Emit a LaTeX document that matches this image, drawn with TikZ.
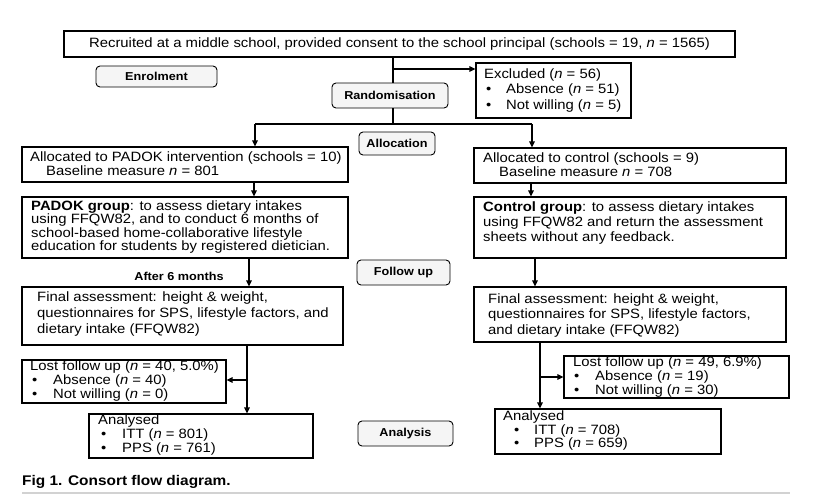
\documentclass[tikz,border=0pt]{standalone}
\usepackage{fontspec}
\setmainfont{Liberation Sans}[FakeStretch=1.1]
\usetikzlibrary{arrows.meta}
\newcommand\bul[2]{\hspace*{#1}\makebox[#2][l]{•}}
\newcommand\nn{\textit{n}}
\begin{document}
\begin{tikzpicture}[x=1pt,y=-1pt,
  box/.style={draw, line width=1.1pt, rectangle, inner sep=0pt},
  lab/.style={draw, line width=0.9pt, rounded corners=4pt, fill=gray!8, inner sep=0pt,
    font=\fontsize{11.5}{13}\selectfont\bfseries},
  txt/.style={inner sep=0pt, anchor=west, align=left},
  conn/.style={line width=1.3pt},
  arr/.style={conn, -{Triangle[length=6pt,width=5.5pt]}}]
\useasboundingbox (0,0) rectangle (817,499);

% boxes
\node[box, minimum width=671pt, minimum height=26pt, font=\fontsize{13.5}{15}\selectfont] (top) at (399.5,44)
  {Recruited at a middle school, provided consent to the school principal (schools = 19, \nn{} = 1565)};
\node[lab, minimum width=121pt, minimum height=21pt] (enrol) at (156.5,76.5) {Enrolment};
\node[lab, minimum width=116pt, minimum height=25pt] (rand) at (390,95.5) {Randomisation};
\node[box, minimum width=155pt, minimum height=55pt] (excl) at (553.5,90.5) {};
\node[lab, minimum width=76pt, minimum height=23pt] (alloc) at (397,143.5) {Allocation};
\node[box, minimum width=326pt, minimum height=35pt] (allocL) at (185,164.5) {};
\node[box, minimum width=312pt, minimum height=35pt] (allocR) at (630,165.5) {};
\node[box, minimum width=326pt, minimum height=61pt] (padok) at (185,227.5) {};
\node[box, minimum width=312pt, minimum height=61pt] (control) at (630,227.5) {};
\node[lab, minimum width=93pt, minimum height=25pt] (follow) at (403.5,272.5) {Follow up};
\node[box, minimum width=321pt, minimum height=58pt] (finalL) at (182.5,316) {};
\node[box, minimum width=312pt, minimum height=55pt] (finalR) at (630,314.5) {};
\node[box, minimum width=204pt, minimum height=43pt] (lostL) at (124,381.5) {};
\node[box, minimum width=224pt, minimum height=44pt] (analL) at (201,436) {};
\node[box, minimum width=225pt, minimum height=42pt] (lostR) at (676.5,377) {};
\node[box, minimum width=226pt, minimum height=45pt] (analR) at (608,431.5) {};
\node[lab, minimum width=95pt, minimum height=25pt] (analysis) at (405.5,433.5) {Analysis};

% texts
\node[txt, font=\fontsize{13.5}{15.5}\selectfont] (exclT) at (484,90.5)
  {Excluded (\nn{} = 56)\\ \bul{2pt}{20pt}Absence (\nn{} = 51)\\ \bul{2pt}{20pt}Not willing (\nn{} = 5)};
\node[txt, font=\fontsize{13.5}{11}\selectfont] (allocLT) at (30,163.5)
  {Allocated to PADOK intervention (schools = 10)\\ \hspace*{16pt}Baseline measure \nn{} = 801};
\node[txt, font=\fontsize{13.5}{12.5}\selectfont] (allocRT) at (483,164.5)
  {Allocated to control (schools = 9)\\ \hspace*{16pt}Baseline measure \nn{} = 708};
\node[txt, font=\fontsize{13.5}{13.3}\selectfont] (padokT) at (31,227)
  {\textbf{PADOK group}: to assess dietary intakes\\ using FFQW82, and to conduct 6 months of\\
   school-based home-collaborative lifestyle\\ education for students by registered dietician.};
\node[txt, font=\fontsize{13.5}{15}\selectfont] (controlT) at (483,223)
  {\textbf{Control group}: to assess dietary intakes\\ using FFQW82 and return the assessment\\
   sheets without any feedback.};
\node[txt, font=\fontsize{13.5}{16}\selectfont] (finalLT) at (37,314)
  {Final assessment: height \& weight,\\ questionnaires for SPS, lifestyle factors, and\\ dietary intake (FFQW82)};
\node[txt, font=\fontsize{13.5}{15.5}\selectfont] (finalRT) at (488,315.5)
  {Final assessment: height \& weight,\\ questionnaires for SPS, lifestyle factors,\\ and dietary intake (FFQW82)};
\node[txt, font=\fontsize{13.5}{11.5}\selectfont] (lostLT) at (30,381)
  {Lost follow up (\nn{} = 40, 5.0\%)\\ \bul{2pt}{21pt}Absence (\nn{} = 40)\\ \bul{2pt}{21pt}Not willing (\nn{} = 0)};
\node[txt, font=\fontsize{13.5}{12}\selectfont] (lostRT) at (573,377)
  {Lost follow up (\nn{} = 49, 6.9\%)\\ \bul{1pt}{21pt}Absence (\nn{} = 19)\\ \bul{1pt}{21pt}Not willing (\nn{} = 30)};
\node[txt, font=\fontsize{13.5}{12}\selectfont] (analLT) at (98,435)
  {Analysed\\ \bul{3pt}{21pt}ITT (\nn{} = 801)\\ \bul{3pt}{21pt}PPS (\nn{} = 761)};
\node[txt, font=\fontsize{13.5}{12.5}\selectfont] (analRT) at (503,430.5)
  {Analysed\\ \bul{11pt}{20pt}ITT (\nn{} = 708)\\ \bul{11pt}{20pt}PPS (\nn{} = 659)};
\node[font=\fontsize{11.5}{13}\selectfont\bfseries, inner sep=0pt] (after) at (179,276) {After 6 months};

% connectors
\coordinate (s1) at (393,69);
\coordinate (s2) at (393,124);
\coordinate (aL) at (255,124);
\coordinate (aR) at (532,124);
\coordinate (xa) at (254,0);
\coordinate (xb) at (531,0);
\coordinate (xc) at (249,0);
\coordinate (xd) at (535,0);
\coordinate (xe) at (247,0);
\coordinate (xf) at (540,0);
\coordinate (bL) at (247,380);
\coordinate (bR) at (540,377);
\draw[conn] (top.south -| s1) -- (rand.north -| s1);
\draw[arr] (s1) -- (s1 -| excl.west);
\draw[conn] (rand.south -| s2) -- (s2);
\draw[conn] (aL) -- (aR);
\draw[arr] (aL) -- (aL |- allocL.north);
\draw[arr] (aR) -- (aR |- allocR.north);
\draw[arr] (xa |- allocL.south) -- (xa |- padok.north);
\draw[arr] (xb |- allocR.south) -- (xb |- control.north);
\draw[arr] (xc |- padok.south) -- (xc |- finalL.north);
\draw[arr] (xd |- control.south) -- (xd |- finalR.north);
\draw[arr] (xe |- finalL.south) -- (xe |- analL.north);
\draw[arr] (bL) -- (bL -| lostL.east);
\draw[arr] (xf |- finalR.south) -- (xf |- analR.north);
\draw[arr] (bR) -- (bR -| lostR.west);

% caption
\node[anchor=west, inner sep=0pt, font=\fontsize{14}{16}\selectfont\bfseries] (cap) at (22,482) {Fig 1. Consort flow diagram.};
\draw[line width=2pt, gray!35] (22,493) -- (790,493);
\end{tikzpicture}
\end{document}
